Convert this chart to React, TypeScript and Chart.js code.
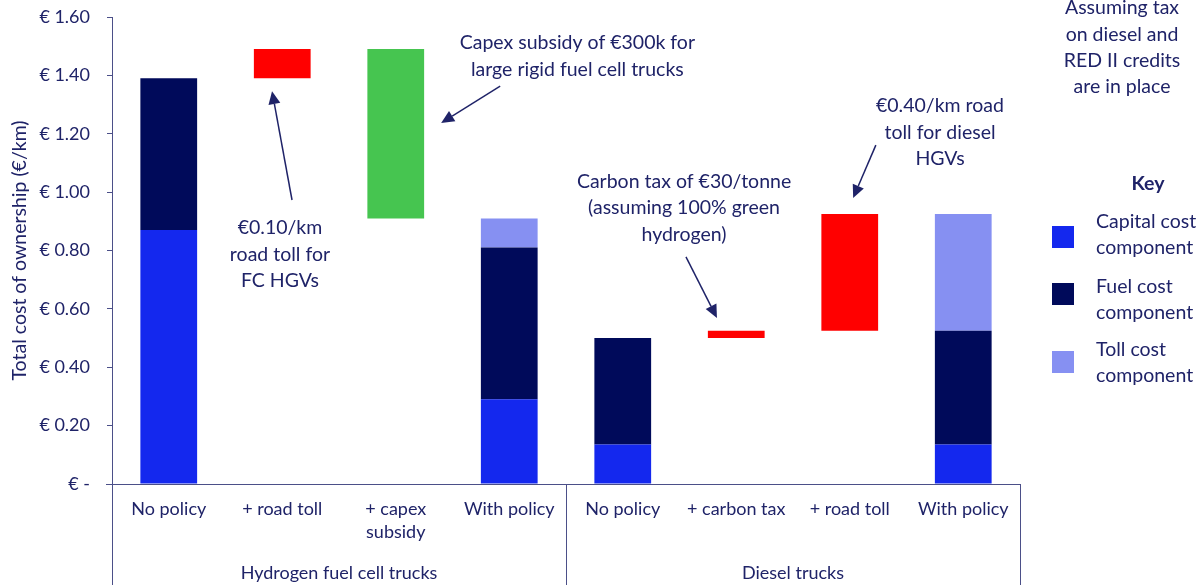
import React, { useEffect, useRef } from 'react';
import { Chart, registerables } from 'chart.js';

Chart.register(...registerables);

// ---------- data ----------
const categories: (string | string[])[] = [
  'No policy', '+ road toll', ['+ capex', 'subsidy'], 'With policy',
  'No policy', '+ carbon tax', '+ road toll', 'With policy',
];
const groupLabels = ['Hydrogen fuel cell trucks', 'Diesel trucks'];
const groupSizes = [4, 4];

const capitalCost: (number | null)[] = [0.87, null, null, 0.29, 0.135, null, null, 0.135];
const fuelCost: (number | null)[] = [0.52, null, null, 0.52, 0.365, null, null, 0.39];
const tollCost: (number | null)[] = [0, null, null, 0.10, 0, null, null, 0.40];
const policyStep: (number | null)[] = [null, 0.10, -0.58, null, null, 0.025, 0.40, null];

const yTickMin = 0;
const yTickMax = 1.6;
const yTickStep = 0.2;

const seriesNames = ['Capital cost component', 'Fuel cost component', 'Toll cost component'];
const legendLines = [['Capital cost', 'component'], ['Fuel cost', 'component'], ['Toll cost', 'component']];
const noteLines = ['Assuming tax', 'on diesel and', 'RED II credits', 'are in place'];

// annotations: text anchor (category index, value) and arrow from/to (index, value)
const annotations = [
  { lines: ['Capex subsidy of €300k for', 'large rigid fuel cell trucks'], at: [3.6, 1.511], from: [2.92, 1.363], to: [2.40, 1.237] },
  { lines: ['€0.10/km', 'road toll for', 'FC HGVs'], at: [0.98, 0.877], from: [1.086, 0.973], to: [0.91, 1.346] },
  { lines: ['Carbon tax of €30/tonne', '(assuming 100% green', 'hydrogen)'], at: [4.54, 1.035], from: [4.557, 0.778], to: [4.83, 0.569] },
  { lines: ['€0.40/km road', 'toll for diesel', 'HGVs'], at: [6.795, 1.295], from: [6.23, 1.161], to: [6.03, 0.98] },
];

// ---------- styles ----------
const FONT = 'Lato, Carlito, Calibri, "Open Sans", sans-serif';
const TEXT = '#1F2368';
const AXIS = '#4B4F88';
const C_CAPITAL = '#1428EE';
const C_FUEL = '#000A5A';
const C_TOLL = '#8690F2';
const C_UP = '#FF0000';
const C_DOWN = '#46C550';
const ANN_SIZE = 19.5;

function buildRanges() {
  const cap: ([number, number] | null)[] = [];
  const fuel: ([number, number] | null)[] = [];
  const toll: ([number, number] | null)[] = [];
  const up: ([number, number] | null)[] = [];
  const down: ([number, number] | null)[] = [];
  let running = 0;
  for (let i = 0; i < categories.length; i++) {
    const c = capitalCost[i];
    const s = policyStep[i];
    if (c != null) {
      const f = fuelCost[i] ?? 0;
      const t = tollCost[i] ?? 0;
      cap.push([0, c]);
      fuel.push([c, c + f]);
      toll.push(t > 0 ? [c + f, c + f + t] : null);
      up.push(null);
      down.push(null);
      running = c + f + t;
    } else if (s != null) {
      const base = running;
      running = base + s;
      cap.push(null); fuel.push(null); toll.push(null);
      if (s >= 0) { up.push([base, running]); down.push(null); }
      else { down.push([running, base]); up.push(null); }
    } else {
      cap.push(null); fuel.push(null); toll.push(null); up.push(null); down.push(null);
    }
  }
  return { cap, fuel, toll, up, down };
}

function drawArrow(ctx: CanvasRenderingContext2D, x1: number, y1: number, x2: number, y2: number) {
  const ang = Math.atan2(y2 - y1, x2 - x1);
  const head = 13;
  const half = 6;
  const bx = x2 - head * Math.cos(ang);
  const by = y2 - head * Math.sin(ang);
  ctx.beginPath();
  ctx.moveTo(x1, y1);
  ctx.lineTo(bx, by);
  ctx.lineWidth = 1.5;
  ctx.strokeStyle = TEXT;
  ctx.stroke();
  ctx.beginPath();
  ctx.moveTo(x2, y2);
  ctx.lineTo(bx + half * Math.sin(ang), by - half * Math.cos(ang));
  ctx.lineTo(bx - half * Math.sin(ang), by + half * Math.cos(ang));
  ctx.closePath();
  ctx.fillStyle = TEXT;
  ctx.fill();
}

const decorPlugin = {
  id: 'decor',
  afterDraw(chart: any) {
    const { ctx, chartArea, scales } = chart;
    const xs = scales.x;
    const ys = scales.y;
    const H = chart.height;
    ctx.save();
    // axis lines
    ctx.strokeStyle = AXIS;
    ctx.lineWidth = 1;
    ctx.beginPath();
    const by = Math.round(chartArea.bottom) + 0.5;
    ctx.moveTo(chartArea.left - 6, by);
    ctx.lineTo(chartArea.right, by);
    let idx = 0;
    const edges: number[] = [chartArea.left];
    groupSizes.forEach((n) => { idx += n; edges.push(xs.getPixelForValue(idx - 0.5)); });
    edges.forEach((ex) => {
      const px = Math.round(ex) + 0.5;
      ctx.moveTo(px, chartArea.bottom);
      ctx.lineTo(px, H);
    });
    ctx.stroke();

    // group labels
    ctx.fillStyle = TEXT;
    ctx.font = `18px ${FONT}`;
    ctx.textAlign = 'center';
    ctx.textBaseline = 'middle';
    groupLabels.forEach((g, k) => {
      ctx.fillText(g, (edges[k] + edges[k + 1]) / 2, H - 12);
    });

    // annotations
    ctx.font = `${ANN_SIZE}px ${FONT}`;
    annotations.forEach((a) => {
      const tx = xs.getPixelForValue(a.at[0]);
      const ty = ys.getPixelForValue(a.at[1]);
      a.lines.forEach((ln, j) => ctx.fillText(ln, tx, ty + j * 26.3));
      drawArrow(ctx,
        xs.getPixelForValue(a.from[0]), ys.getPixelForValue(a.from[1]),
        xs.getPixelForValue(a.to[0]), ys.getPixelForValue(a.to[1]));
    });

    // top-right note
    const noteX = chartArea.right + 102;
    noteLines.forEach((ln, j) => ctx.fillText(ln, noteX, 8 + j * 26.3));

    // legend
    ctx.font = `bold ${ANN_SIZE}px ${FONT}`;
    ctx.fillText('Key', chartArea.right + 128, 184);
    ctx.font = `${ANN_SIZE}px ${FONT}`;
    ctx.textAlign = 'left';
    const colors = [C_CAPITAL, C_FUEL, C_TOLL];
    const boxTops = [226, 283, 351];
    const textTops = [222, 287, 350];
    seriesNames.forEach((_, k) => {
      ctx.fillStyle = colors[k];
      ctx.fillRect(chartArea.right + 32, boxTops[k], 22, 22);
      ctx.fillStyle = TEXT;
      ctx.fillText(legendLines[k][0], chartArea.right + 76, textTops[k]);
      ctx.fillText(legendLines[k][1], chartArea.right + 76, textTops[k] + 26);
    });
    ctx.restore();
  },
};

export default function App() {
  const ref = useRef<HTMLCanvasElement>(null);
  useEffect(() => {
    if (!ref.current) return;
    const r = buildRanges();
    const common = { grouped: false, barPercentage: 0.5, categoryPercentage: 1, borderWidth: 0 };
    const chart = new Chart(ref.current, {
      type: 'bar',
      data: {
        labels: categories as any,
        datasets: [
          { label: seriesNames[0], data: r.cap as any, backgroundColor: C_CAPITAL, ...common },
          { label: seriesNames[1], data: r.fuel as any, backgroundColor: C_FUEL, ...common },
          { label: seriesNames[2], data: r.toll as any, backgroundColor: C_TOLL, ...common },
          { label: 'Increase', data: r.up as any, backgroundColor: C_UP, ...common },
          { label: 'Decrease', data: r.down as any, backgroundColor: C_DOWN, ...common },
        ],
      },
      options: {
        animation: false,
        responsive: true,
        maintainAspectRatio: false,
        layout: { padding: { top: 17, right: 180, left: 8, bottom: 0 } },
        plugins: { legend: { display: false }, tooltip: { enabled: false } },
        scales: {
          x: {
            grid: { display: false, drawTicks: false },
            border: { display: false },
            ticks: {
              color: TEXT,
              font: { family: FONT, size: 18, lineHeight: 1.28 },
              padding: 14,
              maxRotation: 0,
              autoSkip: false,
            },
            afterFit: (s: any) => { s.height = 101; },
          },
          y: {
            min: yTickMin,
            max: yTickMax,
            grid: { drawOnChartArea: false, drawTicks: true, tickLength: 5, color: AXIS },
            border: { display: true, color: AXIS },
            ticks: {
              stepSize: yTickStep,
              color: TEXT,
              padding: 17,
              font: { family: FONT, size: 18 },
              callback: (v: any) => (Number(v) === 0 ? '€ -' : '€ ' + Number(v).toFixed(2)),
            },
            title: {
              display: true,
              text: 'Total cost of ownership (€/km)',
              color: TEXT,
              font: { family: FONT, size: 19.5 },
              padding: 0,
            },
            afterFit: (s: any) => { s.width = 104; s.paddingTop = 0; s.paddingBottom = 0; },
          },
        },
      },
      plugins: [decorPlugin],
    });
    return () => chart.destroy();
  }, []);
  return (
    <div style={{ position: 'fixed', left: 0, top: 0, width: 1200, height: 585, background: '#fff' }}>
      <canvas ref={ref} />
    </div>
  );
}
